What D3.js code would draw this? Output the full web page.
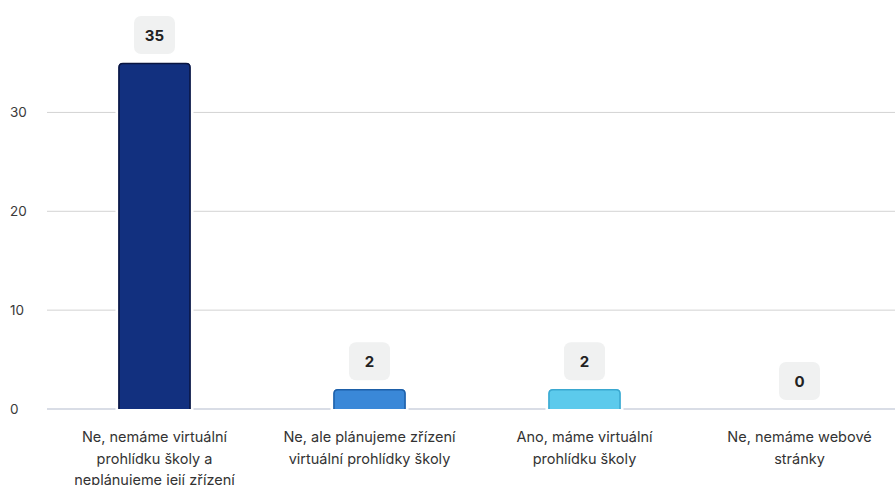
<!DOCTYPE html>
<html><head><meta charset="utf-8">
<script src="https://cdn.jsdelivr.net/npm/d3@7/dist/d3.min.js"></script>
<style>body{margin:0;background:#fff;}svg{display:block;font-family:Inter,"Noto Sans",sans-serif;}</style>
</head><body><svg id="c" width="895" height="485"></svg>
<script>
const categories = ["c1","c2","c3","c4"];
const labelLines = [
  ["Ne, nemáme virtuální","prohlídku školy a","neplánujeme její zřízení"],
  ["Ne, ale plánujeme zřízení","virtuální prohlídky školy"],
  ["Ano, máme virtuální","prohlídku školy"],
  ["Ne, nemáme webové","stránky"]
];
const values = [35, 2, 2, 0];
const colors = ["#12307f", "#3a88d8", "#5ccaec"];
const strokes = ["#0a1540", "#1d5fa8", "#3aa8d0", "#999"];
const yTicks = [0, 10, 20, 30];

const svg = d3.select("#c");
const x = d3.scaleBand().domain(categories).range([47, 907]).paddingInner(0.665).paddingOuter(0.3325);
const y = d3.scaleLinear().domain([0, 35]).range([409, 63]);

// grid
svg.append("g").selectAll("line").data(yTicks.filter(d=>d>0)).join("line")
  .attr("x1", 47).attr("x2", 895).attr("y1", d=>y(d)).attr("y2", d=>y(d))
  .attr("stroke", "#d3d3d3").attr("stroke-width", 1);
svg.append("line").attr("x1",47).attr("x2",895).attr("y1",y(0)).attr("y2",y(0))
  .attr("stroke","#b4bccd").attr("stroke-width",1.2);
svg.append("g").selectAll("text").data(yTicks).join("text")
  .attr("x", 10).attr("y", d=>y(d)+5).attr("font-size", 13.5).attr("fill", "#3a3a3a").text(d=>d);

// bars
const bars = svg.append("g").selectAll("g").data(values).join("g");
bars.filter(d=>d>0).append("path")
  .attr("d", (d,i)=>{
    const x0 = x(categories[i]), w = x.bandwidth(), y0 = y(d), h = y(0)-y(d), r = 4;
    return `M${x0},${y0+h}V${y0+r}Q${x0},${y0} ${x0+r},${y0}H${x0+w-r}Q${x0+w},${y0} ${x0+w},${y0+r}V${y0+h}Z`;
  })
  .attr("fill", (d,i)=>colors[i]).attr("stroke", "#fff").attr("stroke-width", 6).attr("paint-order","stroke");
bars.filter(d=>d>0).append("path")
  .attr("d", (d,i)=>{
    const x0 = x(categories[i])+0.5, w = x.bandwidth()-1, y0 = y(d)+0.5, h = y(0)-y(d)-0.5, r = 4;
    return `M${x0},${y0+h}V${y0+r}Q${x0},${y0} ${x0+r},${y0}H${x0+w-r}Q${x0+w},${y0} ${x0+w},${y0+r}V${y0+h}`;
  })
  .attr("fill", (d,i)=>colors[i]).attr("stroke", (d,i)=>strokes[i]).attr("stroke-width", 1.5);

// value boxes
const bw = 41, bh = 38;
bars.append("rect")
  .attr("x", (d,i)=>x(categories[i])+x.bandwidth()/2-bw/2)
  .attr("y", d=>y(d)-9-bh).attr("width", bw).attr("height", bh).attr("rx", 7)
  .attr("fill", "#f0f1f1");
bars.append("text")
  .attr("x", (d,i)=>x(categories[i])+x.bandwidth()/2)
  .attr("y", d=>y(d)-9-bh/2+5.5).attr("text-anchor","middle")
  .attr("font-size", 15).attr("font-weight", 700).attr("fill", "#222").text(d=>d);

// category labels
const lab = svg.append("g").selectAll("text").data(labelLines).join("text")
  .attr("text-anchor","middle").attr("font-size", 14.5).attr("fill","#333");
lab.each(function(lines,i){
  d3.select(this).selectAll("tspan").data(lines).join("tspan")
    .attr("x", x(categories[i])+x.bandwidth()/2)
    .attr("y", (l,j)=>442 + j*21.5).text(l=>l);
});
</script></body></html>
